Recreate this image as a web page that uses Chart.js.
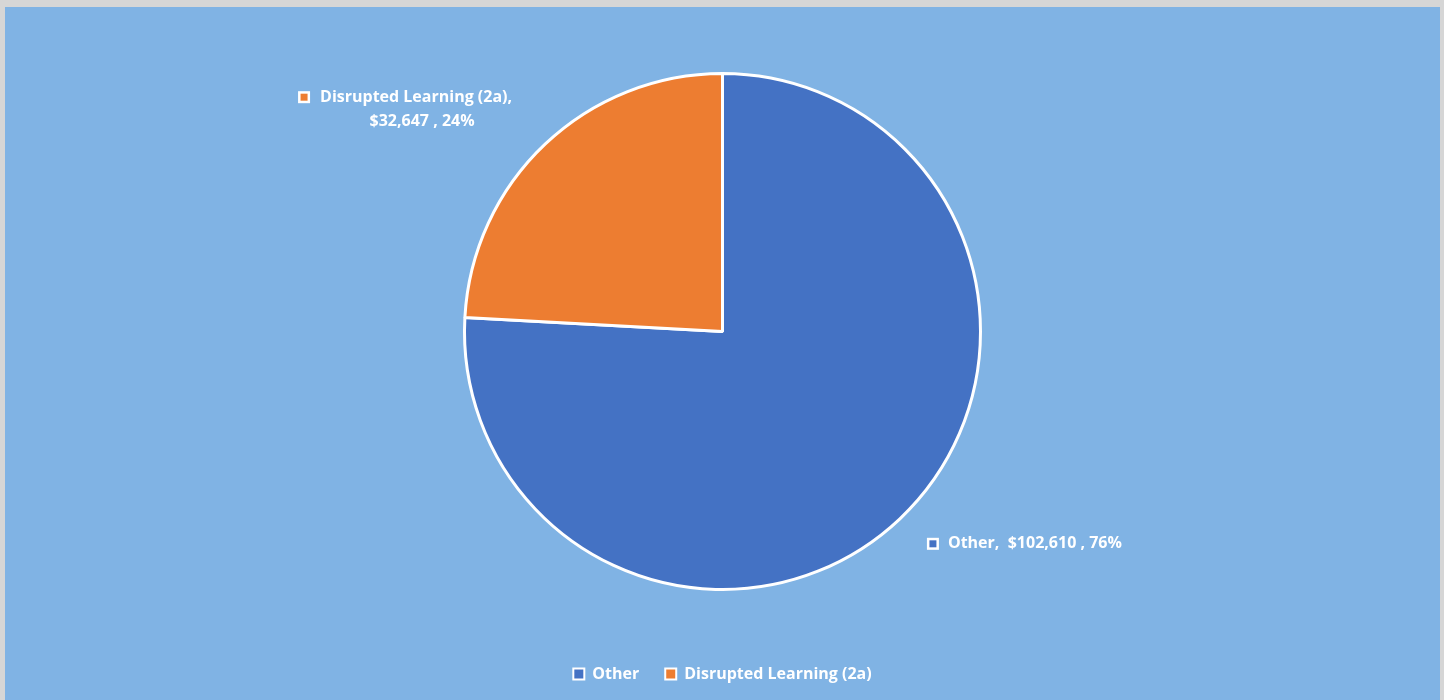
<!DOCTYPE html>
<html>
<head>
<meta charset="utf-8">
<script src="https://cdn.jsdelivr.net/npm/chart.js@4"></script>
<style>
  html, body { margin: 0; padding: 0; background: #d6d6d6; }
  #wrap { position: absolute; left: 5px; top: 7px; width: 1435px; height: 693px; background: #80b3e4; }
</style>
</head>
<body>
<div id="wrap"><canvas id="chart"></canvas></div>
<script>
"use strict";

// data
const categories = ['Other', 'Disrupted Learning (2a)'];
const amounts = [102610, 32647];
const percentLabels = ['76%', '24%'];
const amountLabels = ['$102,610', '$32,647'];
const sliceColors = ['#4472c4', '#ed7d31'];

// label placement relative to slice edge (style only)
const LABEL_FONT = 'bold 16px "Open Sans"';
const labelOffsets = [{ dx: 27, dy: 25 }, { dx: -33, dy: -47 }];

const dataLabels = {
    id: 'dataLabels',
    afterDatasetsDraw(chart) {
        const ctx = chart.ctx;
        const meta = chart.getDatasetMeta(0);
        ctx.save();
        ctx.font = LABEL_FONT;
        ctx.fillStyle = '#ffffff';
        ctx.textBaseline = 'middle';
        meta.data.forEach((arc, i) => {
            const p = arc.getProps(['x', 'y', 'startAngle', 'endAngle', 'outerRadius'], true);
            const mid = (p.startAngle + p.endAngle) / 2;
            const ax = p.x + Math.cos(mid) * p.outerRadius + labelOffsets[i].dx;
            const ay = p.y + Math.sin(mid) * p.outerRadius + labelOffsets[i].dy;
            const marker = (mx, my) => {
                ctx.fillStyle = '#ffffff';
                ctx.fillRect(mx, my - 6, 12, 12);
                ctx.fillStyle = sliceColors[i];
                ctx.fillRect(mx + 2.5, my - 3.5, 7, 7);
                ctx.fillStyle = '#ffffff';
            };
            if (i === 0) {
                marker(ax, ay);
                ctx.textAlign = 'left';
                ctx.fillText(categories[i] + ',  ' + amountLabels[i] + ' , ' + percentLabels[i], ax + 21, ay);
            } else {
                const line1 = categories[i] + ',';
                const line2 = amountLabels[i] + ' , ' + percentLabels[i];
                const w1 = ctx.measureText(line1).width;
                const left = ax - w1;
                marker(left - 22, ay);
                ctx.textAlign = 'left';
                ctx.fillText(line1, left, ay);
                ctx.textAlign = 'center';
                ctx.fillText(line2, left + w1 / 2 + 6, ay + 24);
            }
        });
        ctx.restore();
    }
};

const ctx = document.getElementById('chart').getContext('2d');
const chart = new Chart(ctx, {
    type: 'pie',
    data: {
        labels: categories,
        datasets: [{
            data: amounts,
            backgroundColor: sliceColors,
            borderColor: '#ffffff',
            borderWidth: 3,
            radius: 258
        }]
    },
    options: {
        responsive: true,
        maintainAspectRatio: false,
        animation: false,
        layout: {
            padding: { top: 16, bottom: 8 }
        },
        plugins: {
            legend: {
                position: 'bottom',
                labels: {
                    color: '#ffffff',
                    font: { family: 'Open Sans', size: 16, weight: 'bold' },
                    boxWidth: 11,
                    boxHeight: 11,
                    padding: 26,
                    generateLabels(c) {
                        const items = Chart.overrides.pie.plugins.legend.labels.generateLabels(c);
                        items.forEach(it => { it.lineWidth = 2; it.strokeStyle = '#ffffff'; });
                        return items;
                    }
                }
            },
            tooltip: { enabled: false }
        }
    },
    plugins: [dataLabels]
});
</script>
</body>
</html>
